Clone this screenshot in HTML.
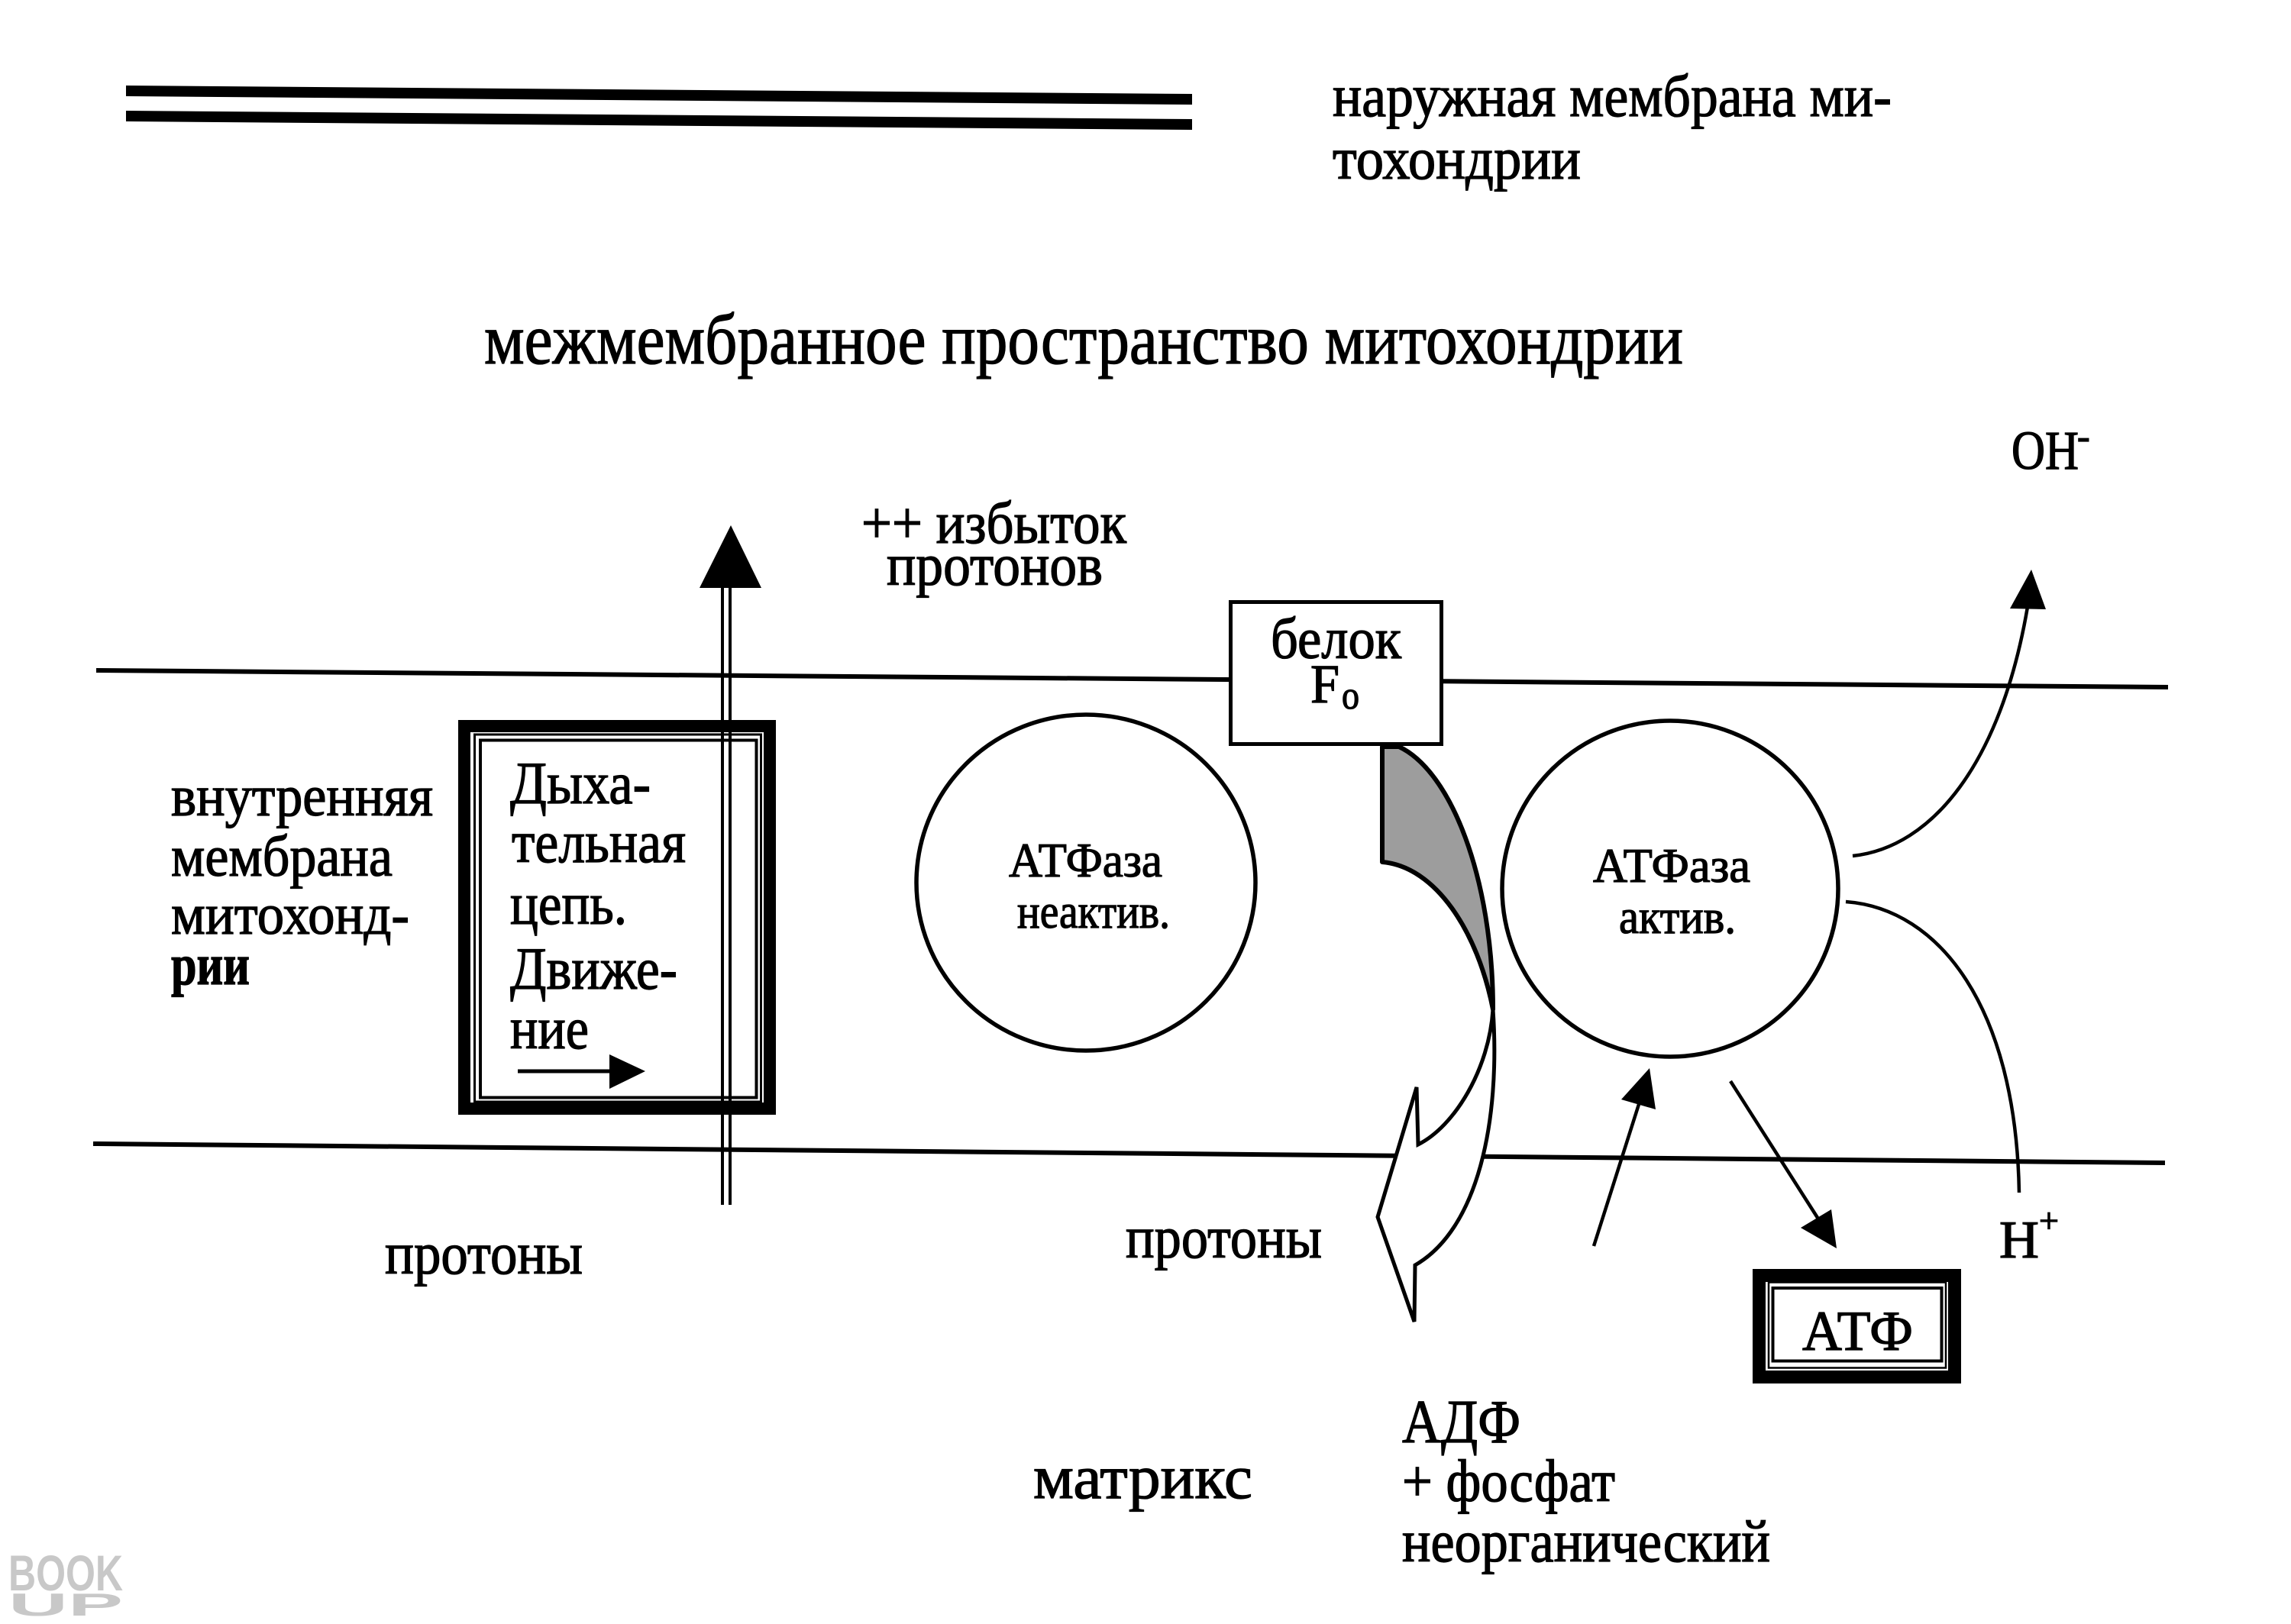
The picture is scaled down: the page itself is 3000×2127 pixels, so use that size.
<!DOCTYPE html>
<html>
<head>
<meta charset="utf-8">
<style>
html,body{margin:0;padding:0;background:#fff;}
svg{display:block;}
.t{font-family:"Liberation Serif","DejaVu Serif",serif;fill:#000;stroke:#000;stroke-width:1.3;}
.b{font-weight:bold;}
</style>
</head>
<body>
<svg xmlns="http://www.w3.org/2000/svg" width="3000" height="2127" viewBox="0 0 3000 2127">
<rect x="0" y="0" width="3000" height="2127" fill="#fff"/>

<!-- outer membrane double bar -->
<polygon points="165,112 1561,123 1561,137 165,126" fill="#000"/>
<polygon points="165,145 1561,156 1561,170 165,159" fill="#000"/>

<!-- inner membrane lines -->
<line x1="126" y1="878" x2="2839" y2="900" stroke="#000" stroke-width="6"/>
<line x1="122" y1="1498" x2="2835" y2="1523" stroke="#000" stroke-width="6"/>

<!-- respiratory chain box -->
<rect x="608" y="951" width="400" height="501" fill="#fff" stroke="#000" stroke-width="16"/>
<rect x="621.5" y="962" width="375" height="481" fill="none" stroke="#000" stroke-width="3"/>
<rect x="629" y="969.5" width="361.5" height="468" fill="none" stroke="#000" stroke-width="4"/>

<!-- vertical double arrow -->
<line x1="946" y1="766" x2="946" y2="1578" stroke="#000" stroke-width="4"/>
<line x1="956" y1="766" x2="956" y2="1578" stroke="#000" stroke-width="4"/>
<polygon points="957,688 916,770 997,770" fill="#000"/>

<!-- arrow inside box -->
<line x1="678" y1="1403" x2="802" y2="1403" stroke="#000" stroke-width="5"/>
<polygon points="845,1403 798,1381 798,1426" fill="#000"/>

<!-- ATPase circles -->
<ellipse cx="1422" cy="1156" rx="222" ry="220" fill="none" stroke="#000" stroke-width="5.5"/>
<ellipse cx="2187" cy="1164" rx="220" ry="220" fill="none" stroke="#000" stroke-width="5.5"/>

<!-- protein Fo box -->
<rect x="1611.5" y="788.5" width="276" height="186" fill="#fff" stroke="#000" stroke-width="5"/>

<!-- grey shape -->
<path d="M1810,978 L1832,978 C1900,1010 1955,1150 1955,1322 C1935,1220 1880,1135 1810,1129 Z" fill="#9d9d9d" stroke="#000" stroke-width="6" stroke-linejoin="round"/>
<!-- hollow curved arrow -->
<path d="M1955,1322 C1965,1470 1935,1610 1853,1657 L1852,1731 L1804,1594 L1855,1424 L1857,1499 C1905,1475 1950,1400 1955,1322 Z" fill="#fff" stroke="#000" stroke-width="5" stroke-linejoin="miter"/>

<!-- OH- curve -->
<path d="M2426,1121 C2530,1110 2620,1000 2655,795" fill="none" stroke="#000" stroke-width="4.5"/>
<polygon points="2660,746 2632,797 2679,798" fill="#000"/>
<!-- H+ curve -->
<path d="M2417,1181 C2540,1190 2640,1320 2644,1562" fill="none" stroke="#000" stroke-width="4.5"/>

<!-- up arrow -->
<line x1="2087" y1="1632" x2="2148" y2="1440" stroke="#000" stroke-width="4.5"/>
<polygon points="2160,1399 2123,1440 2168,1453" fill="#000"/>
<!-- down arrow -->
<line x1="2266" y1="1416" x2="2382" y2="1598" stroke="#000" stroke-width="4.5"/>
<polygon points="2405,1635 2358,1608 2398,1584" fill="#000"/>

<!-- ATF box -->
<rect x="2303.5" y="1670.5" width="256" height="133" fill="#fff" stroke="#000" stroke-width="17"/>
<rect x="2316" y="1679.5" width="232" height="112" fill="none" stroke="#000" stroke-width="2.5"/>
<rect x="2321.5" y="1687" width="221" height="95.5" fill="none" stroke="#000" stroke-width="4"/>

<!-- TEXT -->
<text class="t" x="1745" y="152" font-size="78" textLength="732" lengthAdjust="spacingAndGlyphs">наружная мембрана ми-</text>
<text class="t" x="1745" y="234" font-size="78" textLength="325" lengthAdjust="spacingAndGlyphs">тохондрии</text>

<text class="t" x="634" y="476" font-size="94" textLength="1570" lengthAdjust="spacingAndGlyphs">межмембранное пространство митохондрии</text>

<text class="t" x="2634" y="614" font-size="72" textLength="88" lengthAdjust="spacingAndGlyphs">OH</text>
<text class="t" x="2720" y="588" font-size="50">-</text>

<text class="t" x="1128" y="711" font-size="78" textLength="347" lengthAdjust="spacingAndGlyphs">++ избыток</text>
<text class="t" x="1161" y="766" font-size="78" textLength="283" lengthAdjust="spacingAndGlyphs">протонов</text>

<text class="t" x="1664" y="862" font-size="76" textLength="171" lengthAdjust="spacingAndGlyphs">белок</text>
<text class="t" x="1716" y="920" font-size="72" textLength="38" lengthAdjust="spacingAndGlyphs">F</text>
<text class="t" x="1757" y="928" font-size="52" textLength="23" lengthAdjust="spacingAndGlyphs">o</text>

<text class="t" x="224" y="1068" font-size="76" textLength="343" lengthAdjust="spacingAndGlyphs">внутренняя</text>
<text class="t" x="224" y="1147" font-size="76" textLength="290" lengthAdjust="spacingAndGlyphs">мембрана</text>
<text class="t" x="224" y="1223" font-size="76" textLength="312" lengthAdjust="spacingAndGlyphs">митохонд-</text>
<text class="t b" x="224" y="1289" font-size="76" textLength="103" lengthAdjust="spacingAndGlyphs">рии</text>

<text class="t" x="668" y="1052" font-size="78" textLength="184" lengthAdjust="spacingAndGlyphs">Дыха-</text>
<text class="t" x="670" y="1129" font-size="78" textLength="228" lengthAdjust="spacingAndGlyphs">тельная</text>
<text class="t" x="668" y="1210" font-size="78" textLength="153" lengthAdjust="spacingAndGlyphs">цепь.</text>
<text class="t" x="668" y="1295" font-size="78" textLength="219" lengthAdjust="spacingAndGlyphs">Движе-</text>
<text class="t" x="668" y="1373" font-size="78" textLength="103" lengthAdjust="spacingAndGlyphs">ние</text>

<text class="t" x="1321" y="1148" font-size="64" textLength="201" lengthAdjust="spacingAndGlyphs" stroke-width="1.8">АТФаза</text>
<text class="t" x="1332" y="1215" font-size="64" textLength="200" lengthAdjust="spacingAndGlyphs" stroke-width="1.8">неактив.</text>

<text class="t" x="2086" y="1155" font-size="64" textLength="206" lengthAdjust="spacingAndGlyphs" stroke-width="1.8">АТФаза</text>
<text class="t" x="2120" y="1222" font-size="64" textLength="153" lengthAdjust="spacingAndGlyphs" stroke-width="1.8">актив.</text>

<text class="t" x="504" y="1668" font-size="78" textLength="259" lengthAdjust="spacingAndGlyphs">протоны</text>
<text class="t" x="1474" y="1647" font-size="78" textLength="257" lengthAdjust="spacingAndGlyphs" stroke-width="2.2">протоны</text>

<text class="t" x="2618" y="1647" font-size="70" textLength="52" lengthAdjust="spacingAndGlyphs">H</text>
<text class="t" x="2670" y="1614" font-size="46">+</text>

<text class="t" x="2360" y="1768" font-size="74" textLength="145" lengthAdjust="spacingAndGlyphs">АТФ</text>

<text class="t" x="1353" y="1962" font-size="82" textLength="287" lengthAdjust="spacingAndGlyphs">матрикс</text>
<text class="t" x="1836" y="1889" font-size="80" textLength="155" lengthAdjust="spacingAndGlyphs">АДФ</text>
<text class="t" x="1836" y="1966" font-size="78" textLength="279" lengthAdjust="spacingAndGlyphs">+ фосфат</text>
<text class="t" x="1836" y="2045" font-size="78" textLength="482" lengthAdjust="spacingAndGlyphs" stroke-width="2.2">неорганический</text>

<!-- watermark -->
<text x="11" y="2083" font-family="'Liberation Sans',sans-serif" font-weight="bold" font-size="66" fill="#c8c8c8" textLength="150" lengthAdjust="spacingAndGlyphs">BOOK</text>
<text x="11" y="2116" font-family="'Liberation Sans',sans-serif" font-weight="bold" font-size="42" fill="#c8c8c8" textLength="150" lengthAdjust="spacingAndGlyphs">UP</text>
</svg>
</body>
</html>
